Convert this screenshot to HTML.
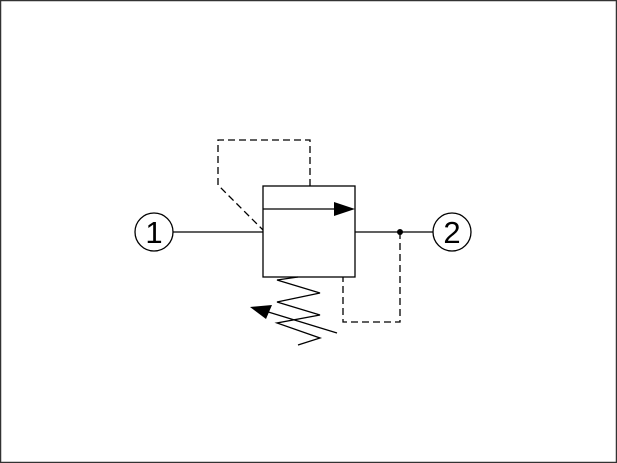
<!DOCTYPE html>
<html><head><style>body{margin:0;background:#fff}</style></head><body>
<svg width="617" height="463" xmlns="http://www.w3.org/2000/svg" style="display:block">
<rect x="0.5" y="0.5" width="616" height="462" fill="#fff" stroke="#333" stroke-width="1.5"/>
<g stroke="#000" stroke-width="1.3" fill="none">
<rect x="263" y="186" width="92" height="91"/>
<line x1="263" y1="209" x2="336" y2="209"/>
<line x1="173" y1="232" x2="263" y2="232"/>
<line x1="355" y1="232" x2="433" y2="232"/>
<circle cx="154" cy="232" r="19"/>
<circle cx="452" cy="232" r="19"/>
<g stroke-dasharray="7,4">
<polyline points="310,186 310,140 218,140 218,185 263,230"/>
<polyline points="400,232 400,322 343,322 343,277"/>
</g>
<polyline points="298,277 277,280 320,293 277,302 320,315 277,323 320,338 298,345"/>
<line x1="337" y1="333" x2="265" y2="311"/>
</g>
<polygon points="355,209 334,202 334,216" fill="#000"/>
<polygon points="250,307 272,305 266,319" fill="#000"/>
<circle cx="400" cy="232" r="3" fill="#000"/>
<text x="154" y="243" font-family="Liberation Sans, sans-serif" font-size="31" text-anchor="middle">1</text>
<text x="452" y="243" font-family="Liberation Sans, sans-serif" font-size="31" text-anchor="middle">2</text>
</svg>
</body></html>
